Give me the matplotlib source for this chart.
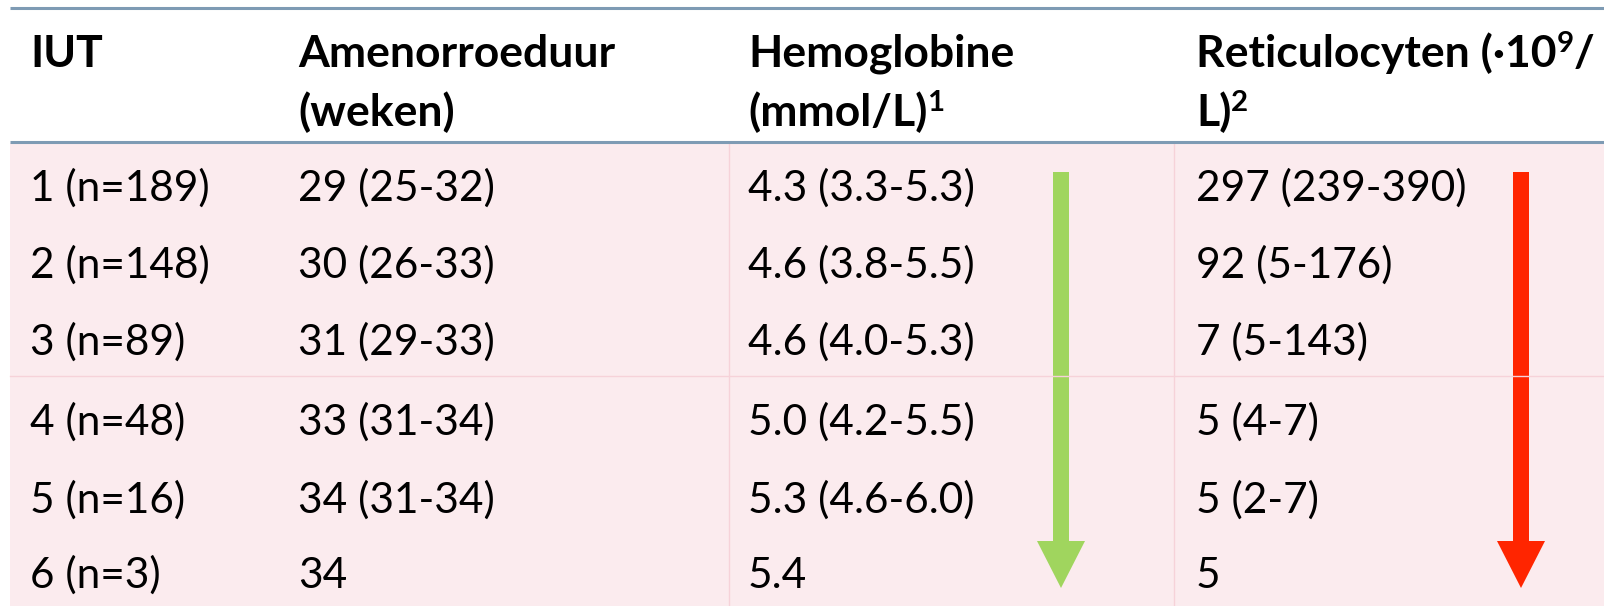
import matplotlib
matplotlib.use("Agg")
import matplotlib.pyplot as plt
from matplotlib.patches import Rectangle, FancyArrow

# header text, "^" toggles superscript
headers = [
    ["IUT", ""],
    ["Amenorroeduur", "(weken)"],
    ["Hemoglobine", "(mmol/L)^1"],
    ["Reticulocyten (·10^9^/", "L)^2"],
]
iut = ["1 (n=189)", "2 (n=148)", "3 (n=89)", "4 (n=48)", "5 (n=16)", "6 (n=3)"]
amenorroeduur = ["29 (25-32)", "30 (26-33)", "31 (29-33)", "33 (31-34)", "34 (31-34)", "34"]
hemoglobine = ["4.3 (3.3-5.3)", "4.6 (3.8-5.5)", "4.6 (4.0-5.3)", "5.0 (4.2-5.5)", "5.3 (4.6-6.0)", "5.4"]
reticulocyten = ["297 (239-390)", "92 (5-176)", "7 (5-143)", "5 (4-7)", "5 (2-7)", "5"]
trend_colors = ["#a0d55e", "#ff2500"]   # arrows on hemoglobine and reticulocyten

W, H = 1604, 606
col_x = [30, 298, 748, 1196]
header_base = [67, 126]
row_base = [201, 278, 355, 435, 513, 588]
FS_BODY = 30.5
FS_HEAD = 32
FAMILY = ["Lato", "DejaVu Sans"]

fig = plt.figure(figsize=(W / 100, H / 100), dpi=100)
ax = fig.add_axes([0, 0, 1, 1])
ax.set_xlim(0, W)
ax.set_ylim(H, 0)
ax.axis("off")

# background and rules
ax.add_patch(Rectangle((10, 143), W - 10, H - 143, facecolor="#fbebee", edgecolor="none"))
ax.plot([10, W], [376, 376], color="#f6d2d9", lw=1)
for xv in [729, 1174]:
    ax.plot([xv, xv], [143, H], color="#f6d2d9", lw=1)
for yv in [8, 142]:
    ax.plot([10, W], [yv, yv], color="#7e9bb4", lw=2.2, solid_capstyle="butt")


def rich_text(x, y, s, weight, fs):
    parts = s.split("^")
    prev = None
    for i, part in enumerate(parts):
        if part == "":
            continue
        sup = i % 2 == 1
        size = fs * 0.66 if sup else fs
        yy = y - 15 if sup else y
        if prev is None:
            prev = ax.text(x, yy, part, fontsize=size, fontweight=weight,
                           family=FAMILY, va="baseline", ha="left")
        else:
            prev = ax.annotate(part, xy=(1, yy), xycoords=(prev, "data"),
                               fontsize=size, fontweight=weight, family=FAMILY,
                               va="baseline", ha="left")


for cx, lines in zip(col_x, headers):
    for yb, line in zip(header_base, lines):
        rich_text(cx, yb, line, "bold", FS_HEAD)

for cx, col in zip(col_x, [iut, amenorroeduur, hemoglobine, reticulocyten]):
    for yb, val in zip(row_base, col):
        rich_text(cx, yb, val, "normal", FS_BODY)

# trend arrows
for xa, c in zip([1061, 1521], trend_colors):
    ax.add_patch(FancyArrow(xa, 172, 0, 416, width=16, head_width=48, head_length=47,
                            length_includes_head=True, color=c, lw=0))

fig.savefig("out.png", dpi=100)
